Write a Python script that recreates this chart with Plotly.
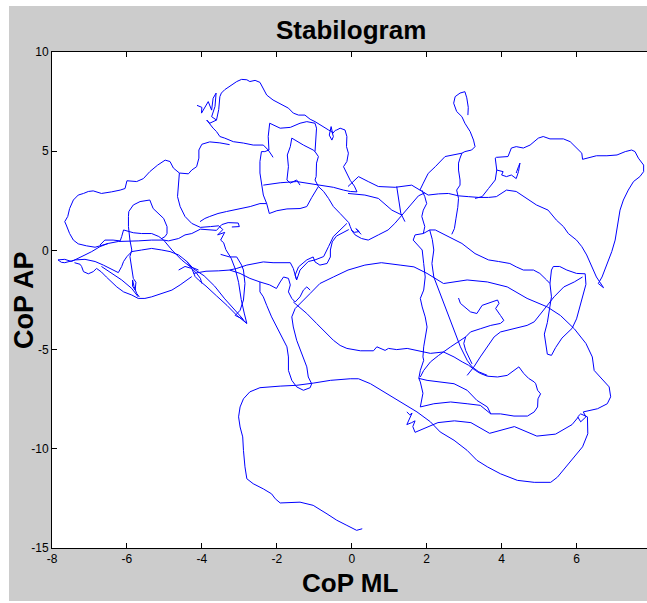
import plotly.graph_objects as go

# ---- Data: CoP trajectory (ML, AP), as path pieces ----
seg_bottom = [(0.28,-14.03),(0.13,-14.11),(-0.13,-13.86),(-0.40,-13.60),(-0.66,-13.28),(-1.03,-12.85),(-1.38,-12.69),(-1.91,-12.73),(-2.04,-12.52),(-2.14,-12.27),(-2.36,-12.02),(-2.63,-11.76),(-2.80,-11.51),(-2.85,-10.91),(-2.89,-10.08),(-2.91,-9.40),(-2.98,-8.90),(-3.02,-8.39),(-2.98,-7.89),(-2.89,-7.48),(-2.72,-7.13),(-2.45,-6.92),(-1.91,-6.84),(-1.47,-6.80),(-1.03,-6.69),(-0.57,-6.55),(-0.04,-6.47),(0.18,-6.47),(0.50,-6.72),(0.94,-7.23),(1.39,-7.73),(1.74,-8.14),(2.10,-8.64),(2.36,-9.15),(2.73,-9.57),(3.08,-10.08),(3.34,-10.58),(3.62,-10.91),(3.97,-11.26),(4.42,-11.59),(4.87,-11.69),(5.31,-11.69),(5.49,-11.43),(5.71,-10.93),(5.94,-10.41),(6.16,-9.90),(6.30,-9.24),(6.29,-8.39),(6.11,-8.24),(6.03,-8.39),(6.11,-8.64),(6.25,-8.39),(6.18,-8.14),(6.56,-7.98),(6.82,-7.73),(6.91,-7.38),(6.87,-6.88),(6.64,-6.38),(6.47,-6.05),(6.42,-5.37),(6.25,-4.69),(5.94,-3.95),(5.57,-3.28),(5.22,-2.85),(4.68,-2.42),(4.15,-1.84),(3.62,-1.59),(3.08,-1.49),(2.73,-1.59),(2.45,-1.67),(2.01,-1.16),(1.66,-0.83),(1.29,-0.74),(0.79,-0.62),(0.35,-0.74),(-0.10,-0.99),(-0.49,-1.34),(-0.85,-1.67),(-1.11,-2.17),(-1.38,-2.67),(-1.51,-2.93),(-1.60,-3.35),(-1.56,-3.86),(-1.47,-4.53),(-1.34,-5.19),(-1.20,-5.87),(-1.16,-6.38),(-1.07,-6.72),(-1.11,-6.92),(-1.29,-7.05),(-1.47,-6.88),(-1.60,-6.55),(-1.69,-6.05),(-1.69,-5.37),(-1.73,-4.86),(-1.87,-4.36),(-2.01,-3.86),(-2.14,-3.35),(-2.27,-2.77),(-2.36,-2.34),(-2.45,-2.09),(-2.45,-1.59),(-2.19,-1.74),(-2.01,-1.92),(-1.91,-1.59),(-1.82,-1.34),(-1.69,-1.41),(-1.64,-1.74),(-1.69,-2.09),(-1.60,-2.42),(-1.51,-2.60),(-1.38,-2.34),(-1.29,-2.00),(-1.20,-1.84),(-1.11,-2.00)]

seg_low_mid = [(-1.56,-2.60),(-1.20,-3.18),(-0.94,-3.68),(-0.66,-4.19),(-0.49,-4.53),(-0.31,-4.79),(-0.13,-4.94),(0.23,-5.06),(0.58,-5.06),(0.67,-4.86),(0.76,-4.94),(0.89,-5.04),(0.98,-4.94),(1.20,-5.00),(1.48,-4.94),(1.74,-5.04),(1.92,-5.12),(2.10,-5.19),(2.45,-5.12),(2.73,-5.37),(2.95,-5.62),(3.12,-5.79),(3.30,-6.05),(3.43,-6.20),(3.62,-6.34),(3.89,-6.38),(4.15,-6.30),(4.33,-6.05),(4.46,-5.87),(4.59,-6.20),(4.72,-6.45),(4.87,-6.63),(4.91,-6.72),(4.96,-7.05),(5.04,-7.23),(4.97,-7.48),(4.96,-7.89),(4.87,-8.14),(4.69,-8.35),(4.33,-8.35),(3.97,-8.24),(3.71,-8.24),(3.62,-7.89),(3.34,-7.56),(3.08,-7.05),(2.73,-6.72),(2.36,-6.63),(2.01,-6.55),(1.79,-6.45),(1.83,-6.63),(1.90,-7.20),(1.83,-7.89),(2.19,-7.73),(2.64,-7.64),(3.08,-7.73),(3.43,-7.81),(3.71,-8.24)]

seg_a_cluster = [(1.47,-8.14),(1.55,-8.29),(1.61,-8.20),(1.52,-8.59),(1.47,-8.78),(1.60,-8.68),(1.69,-8.59),(1.63,-8.88),(1.69,-9.17),(2.30,-8.68),(2.74,-8.59),(3.18,-8.68),(3.68,-9.22),(4.34,-8.88),(4.94,-9.36),(5.44,-9.26),(5.88,-8.78),(6.05,-8.39)]

seg_right_vert = [(1.87,3.04),(1.95,2.71),(2.00,2.36),(1.91,2.03),(1.87,1.71),(1.95,1.20),(1.91,0.85),(1.69,0.78),(1.64,0.52),(1.88,0.02),(1.92,-0.66),(1.96,-1.34),(1.92,-2.00),(1.83,-2.42),(1.88,-2.85),(1.96,-3.35),(2.01,-3.86),(1.96,-4.44),(1.92,-4.86),(1.90,-5.37),(1.92,-5.54),(1.83,-6.05),(1.79,-6.45)]

seg_inner_vert = [(2.08,1.03),(2.15,0.55),(2.19,0.02),(2.14,-0.66),(2.19,-1.34),(2.32,-2.00),(2.45,-2.67),(2.64,-3.53),(2.77,-4.19),(2.90,-4.86),(3.08,-5.54),(3.21,-5.87),(3.39,-6.12),(3.62,-6.30)]

seg_right_box = [(1.91,0.85),(2.08,1.03),(2.23,1.03),(2.58,0.70),(2.94,0.35),(3.29,-0.16),(3.65,-0.48),(3.92,-0.56),(4.22,-0.66),(4.39,-0.83),(4.58,-0.99),(4.85,-0.99),(5.02,-1.16),(5.20,-1.49),(5.29,-1.67),(5.33,-0.99),(5.38,-0.81),(5.55,-0.81),(5.74,-0.99),(6.00,-1.16),(6.23,-1.18),(6.25,-1.71),(6.16,-2.29),(6.07,-2.87),(6.00,-3.45),(5.88,-3.93),(5.61,-4.42),(5.44,-4.90),(5.33,-5.29),(5.22,-5.23),(5.19,-4.81),(5.14,-4.22),(5.22,-3.64),(5.29,-2.93),(5.33,-2.34),(5.29,-1.67)]

seg_sweep = [(3.08,-6.30),(3.26,-5.87),(3.43,-5.37),(3.62,-4.86),(3.80,-4.36),(3.97,-4.11),(4.15,-4.03),(4.42,-3.93),(4.68,-3.78),(4.87,-3.60),(5.04,-3.18),(5.22,-2.75),(5.40,-2.34),(5.66,-1.84),(5.94,-1.59),(6.16,-1.34)]

seg_diag_up = [(1.83,-6.38),(1.92,-6.05),(2.10,-5.62),(2.32,-5.29),(2.64,-4.86),(2.90,-4.53),(3.04,-4.36)]

seg_hook_low = [(2.85,-2.40),(2.90,-2.67),(3.17,-3.10),(3.34,-3.18),(3.48,-2.77),(3.71,-2.60),(3.89,-2.50),(3.93,-2.67),(3.84,-2.93),(3.97,-3.28),(4.06,-3.53),(3.97,-3.68),(3.71,-3.78),(3.43,-3.95),(3.17,-4.11),(3.04,-4.36),(2.99,-4.69),(3.04,-5.04),(3.12,-5.37),(3.21,-5.72)]

seg_right_loop = [(3.29,2.62),(3.48,2.71),(3.65,3.12),(3.83,3.55),(3.87,4.05),(3.83,4.65),(3.86,4.69),(4.17,4.73),(4.26,5.16),(4.39,5.23),(4.58,5.16),(4.76,5.31),(4.98,5.66),(5.11,5.74),(5.29,5.62),(5.65,5.62),(5.83,5.48),(6.05,5.06),(6.14,4.90),(6.16,4.59),(6.31,4.65),(6.53,4.77),(6.81,4.77),(7.08,4.81),(7.30,4.98),(7.47,5.06),(7.56,4.98),(7.65,4.65),(7.79,4.30),(7.79,3.97),(7.69,3.72),(7.52,3.47),(7.38,3.04),(7.25,2.54),(7.16,2.03),(7.09,1.20),(7.03,0.52),(6.94,-0.06),(6.81,-0.66),(6.68,-1.34),(6.58,-1.67),(6.72,-1.88),(6.53,-1.34),(6.40,-0.81),(6.27,-0.23),(6.14,0.19),(6.00,0.52),(5.78,0.85),(5.65,1.20),(5.46,1.53),(5.24,2.03),(4.93,2.29),(4.67,2.62),(4.39,2.97),(4.13,3.04),(3.86,2.71),(3.65,2.67),(3.39,2.67),(3.11,2.71),(2.85,2.75),(2.58,2.87),(2.32,2.85),(2.04,2.79),(1.82,3.04),(1.60,3.29),(1.16,3.18),(0.71,3.22),(0.44,3.47),(0.18,3.72),(-0.10,3.22)]

seg_tr_tangle = [(3.87,4.05),(4.04,3.97),(4.00,3.80),(4.13,3.72),(4.26,3.80),(4.39,3.62),(4.45,3.97),(4.49,4.40),(4.45,4.22),(4.39,3.90)]

seg_top_hook = [(3.10,6.82),(3.11,7.21),(3.07,7.69),(3.02,8.00),(2.89,7.93),(2.76,7.75),(2.72,7.42),(2.80,7.00),(2.94,6.74),(3.02,6.41),(3.16,5.99),(3.25,5.56),(3.29,5.23),(3.20,5.06),(3.02,4.98),(2.94,4.90),(2.89,4.65),(2.85,4.40),(2.85,4.05),(2.89,3.55),(2.89,3.29),(2.80,3.04),(2.85,2.62),(2.83,2.17),(2.78,1.59),(2.74,1.10),(2.67,0.81)]

seg_hook_link = [(2.94,4.90),(2.49,4.73),(2.23,4.22),(2.04,3.88),(1.91,3.39),(1.82,3.04)]

seg_band_low = [(-0.10,2.87),(0.35,2.79),(0.71,2.62),(1.07,2.03),(1.34,1.78)]
seg_mid_curve = [(-0.01,1.03),(0.09,0.78),(0.26,0.60),(0.44,0.52),(0.71,0.78),(0.97,1.03),(1.15,1.36),(1.34,1.78),(1.60,2.40),(1.78,2.75),(1.95,2.90)]
seg_tip = [(1.20,3.22),(1.25,2.54),(1.31,1.86),(1.42,1.45)]

seg_tangle_tl = [(-4.13,7.31),(-4.00,7.21),(-4.01,6.92),(-3.92,7.25),(-3.83,7.50),(-3.74,7.07),(-3.70,7.67),(-3.62,7.93),(-3.65,7.25),(-3.74,6.74),(-3.61,6.57),(-3.79,6.41),(-3.87,6.57),(-3.70,6.16),(-3.61,5.99)]

seg_arch = [(-3.61,6.57),(-3.55,7.10),(-3.52,7.75),(-3.48,7.93),(-3.39,8.10),(-3.26,8.26),(-3.07,8.51),(-2.94,8.62),(-2.80,8.60),(-2.72,8.51),(-2.58,8.57),(-2.45,8.47),(-2.36,8.18),(-2.27,7.83),(-2.10,7.58),(-1.87,7.33),(-1.69,7.17),(-1.56,6.92),(-1.42,6.82),(-1.25,6.82),(-1.11,6.61),(-0.98,6.49),(-0.84,6.32),(-0.71,6.16),(-0.62,6.07),(-0.53,5.99),(-0.49,5.74),(-0.53,5.56),(-0.60,5.81),(-0.55,6.24),(-0.51,5.89),(-0.44,6.05),(-0.40,6.07),(-0.31,6.16),(-0.18,6.07),(-0.13,5.74),(-0.14,5.23),(-0.09,4.90),(-0.13,4.48),(-0.22,4.22),(-0.13,3.90),(-0.04,3.53),(0.07,3.24),(0.14,2.95)]

seg_tl_line = [(-3.61,5.99),(-3.52,5.74),(-3.39,5.66),(-3.16,5.48),(-2.89,5.41),(-2.63,5.31),(-2.36,5.31),(-2.23,5.06),(-2.14,4.81),(-2.10,4.69)]

seg_left_loop = [(-3.26,5.33),(-3.52,5.42),(-3.79,5.47),(-4.00,5.35),(-4.08,5.06),(-4.08,4.65),(-4.14,4.22),(-4.27,4.05),(-4.36,3.86),(-4.60,3.90),(-4.76,4.15),(-4.85,4.48),(-4.98,4.55),(-5.18,4.30),(-5.39,3.97),(-5.56,3.62),(-5.74,3.47),(-6.00,3.51),(-6.05,3.12),(-6.18,3.04),(-6.41,2.95),(-6.68,2.87),(-6.90,3.00),(-7.03,2.97),(-7.16,2.87),(-7.30,2.79),(-7.43,2.54),(-7.53,2.11),(-7.58,1.71),(-7.66,1.45),(-7.62,1.28),(-7.53,0.85),(-7.43,0.52),(-7.30,0.33),(-7.08,0.23),(-6.85,0.16),(-6.72,0.23),(-6.50,0.35),(-6.23,0.45),(-5.92,0.45),(-5.70,0.48),(-5.34,0.52),(-5.02,0.52),(-4.89,0.48),(-4.62,0.60),(-4.45,0.78),(-4.27,0.85),(-4.04,1.07),(-3.77,1.05),(-3.61,1.01)]

seg_left_down = [(-4.60,3.90),(-4.62,3.47),(-4.65,2.71),(-4.58,2.21),(-4.45,1.71),(-4.27,1.36),(-4.04,1.16),(-3.77,1.20),(-3.55,1.24),(-3.44,1.05),(-3.58,0.78),(-3.39,0.91),(-3.50,0.52),(-3.42,0.39),(-3.36,0.04),(-3.22,-0.39),(-3.11,-0.93),(-3.02,-1.61),(-2.95,-2.48),(-2.87,-3.16),(-2.80,-3.68)]

seg_box_small = [(-3.61,1.01),(-3.47,1.30),(-3.30,1.40),(-3.03,1.38),(-3.00,1.20),(-3.20,1.18)]

seg_cluster_up = [(-4.05,1.45),(-3.92,1.61),(-3.79,1.71),(-3.57,1.86),(-3.34,1.96),(-3.16,2.03),(-2.71,2.21),(-2.45,2.36),(-2.27,2.36)]

seg_mid_box = [(-2.19,6.41),(-2.23,5.74),(-2.21,5.06),(-2.32,4.98),(-2.41,4.98),(-2.45,4.48),(-2.45,3.90),(-2.41,3.29),(-2.36,2.79),(-2.27,2.36),(-2.20,1.86),(-2.00,2.00),(-1.73,2.09),(-1.38,2.11),(-1.20,2.21),(-1.07,2.66),(-0.89,3.22)]

seg_mid_top = [(-2.19,6.41),(-1.91,6.16),(-1.64,6.20),(-1.38,6.41),(-1.20,6.49),(-0.98,6.41),(-0.94,6.16),(-0.96,5.60),(-0.98,4.98),(-0.89,4.73),(-0.94,4.40),(-0.95,3.72),(-0.98,3.55),(-0.89,3.22),(-0.75,2.97),(-0.62,2.62),(-0.49,2.21),(-0.31,1.86),(-0.13,1.53),(-0.08,1.40),(-0.04,1.20),(0.00,1.01),(0.07,0.91),(0.20,0.95),(0.11,1.10),(0.25,0.81)]

seg_inner_loop = [(-0.98,4.98),(-1.03,5.06),(-1.29,5.31),(-1.51,5.56),(-1.60,5.66),(-1.64,5.23),(-1.72,4.81),(-1.69,4.22),(-1.73,3.55),(-1.64,3.39),(-1.47,3.55),(-1.38,3.29)]

seg_mid_band = [(-2.36,3.29),(-1.91,3.41),(-1.47,3.47),(-1.11,3.37),(-0.75,3.29),(-0.49,3.18),(-0.22,3.04),(-0.04,2.97),(0.14,2.95)]

seg_center_a = [(-0.08,1.05),(-0.24,0.91),(-0.41,0.72),(-0.52,0.43),(-0.57,0.02),(-0.57,-0.33),(-0.66,-0.66),(-0.85,-0.74),(-0.98,-0.58),(-1.03,-0.33),(-1.20,-0.48),(-1.42,-0.83),(-1.51,-1.24),(-1.47,-1.49)]
seg_center_b = [(-0.13,1.36),(-0.31,1.03),(-0.49,0.70),(-0.62,0.19),(-0.75,-0.31),(-0.98,-0.48),(-1.16,-0.56),(-1.38,-0.99),(-1.47,-1.49)]

seg_mid_left = [(-4.22,-1.16),(-3.89,-1.05),(-3.55,-1.03),(-3.26,-0.99),(-3.07,-0.91),(-2.80,-0.74),(-2.36,-0.58),(-2.10,-0.62),(-1.64,-0.62),(-1.56,-0.91),(-1.51,-1.24),(-1.47,-1.49)]
seg_mid_left2 = [(-3.26,-0.99),(-2.98,-1.16),(-2.72,-1.41),(-2.45,-1.59)]
seg_spike = [(-3.50,-0.20),(-3.26,-0.33),(-3.07,-0.33),(-2.94,-0.74),(-2.89,-0.99),(-2.85,-1.67),(-2.89,-2.50),(-2.98,-3.02),(-3.11,-3.28),(-2.94,-3.43),(-2.80,-3.68)]
seg_spike_a = [(-4.09,-1.49),(-3.89,-1.80),(-3.61,-2.29),(-3.33,-2.77),(-3.06,-3.29),(-2.80,-3.68)]
seg_spike_b = [(-4.40,-0.56),(-4.22,-0.93),(-3.94,-1.28),(-3.66,-1.80),(-3.39,-2.44),(-3.11,-3.02),(-2.89,-3.49)]

seg_left_vert = [(-5.07,0.60),(-4.98,0.70),(-4.93,0.85),(-4.93,1.20),(-5.02,1.61),(-5.15,1.86),(-5.30,2.11),(-5.39,2.54),(-5.65,2.46),(-5.83,2.29),(-5.95,1.96),(-5.96,1.71),(-5.96,1.20),(-5.92,0.52),(-5.87,0.02),(-5.92,-0.31),(-5.87,-0.99),(-5.83,-1.41),(-5.76,-1.61),(-5.78,-2.00),(-5.85,-1.80),(-5.85,-1.49),(-5.81,-1.82),(-5.74,-2.17),(-5.67,-2.34)]

seg_left_low = [(-7.84,-0.48),(-7.75,-0.60),(-7.66,-0.62),(-7.53,-0.56),(-7.38,-0.48),(-7.12,-0.45),(-6.85,-0.56),(-6.63,-0.74),(-6.41,-0.95),(-6.23,-1.12),(-6.14,-0.81),(-6.09,-0.56),(-6.00,-0.31),(-5.87,-0.06),(-5.61,0.02),(-5.34,0.10),(-5.07,0.02),(-4.85,-0.06),(-4.62,-0.23),(-4.40,-0.56),(-4.27,-0.91),(-4.18,-1.32),(-4.09,-1.49)]
seg_left_edge = [(-7.84,-0.48),(-7.66,-0.45),(-7.48,-0.56),(-7.30,-0.41),(-7.12,-0.23),(-6.94,-0.06),(-6.72,0.19),(-6.50,0.35)]
seg_left_bottom = [(-7.40,-0.62),(-7.25,-0.70),(-7.21,-0.81),(-7.16,-1.07),(-7.03,-1.18),(-6.90,-1.07),(-6.81,-0.91),(-6.68,-1.09),(-6.55,-1.34),(-6.41,-1.59),(-6.27,-1.84),(-6.09,-2.09),(-5.87,-2.25),(-5.70,-2.42),(-5.52,-2.42),(-5.34,-2.34),(-5.07,-2.17),(-4.80,-2.00),(-4.58,-1.74),(-4.40,-1.49),(-4.27,-1.32)]
seg_left_diag = [(-6.68,-0.81),(-6.46,-1.07),(-6.14,-1.49),(-5.87,-1.92),(-5.70,-2.34)]
seg_left_band = [(-6.72,0.27),(-6.59,0.52),(-6.37,0.52),(-6.18,0.48),(-6.14,0.70),(-6.09,1.03),(-5.83,0.89),(-5.61,0.85),(-5.34,0.85),(-5.15,0.70),(-5.02,0.52),(-4.80,0.02),(-4.54,-0.48),(-4.32,-0.81),(-4.09,-0.99)]
seg_left_hook = [(-4.62,-0.99),(-4.45,-0.81),(-4.27,-0.91),(-4.14,-1.16),(-4.04,-1.41),(-4.00,-1.67)]

segments = [seg_bottom, seg_low_mid, seg_a_cluster, seg_right_vert, seg_inner_vert,
            seg_right_box, seg_sweep, seg_diag_up, seg_hook_low, seg_right_loop,
            seg_tr_tangle, seg_top_hook, seg_hook_link, seg_band_low, seg_mid_curve,
            seg_tip, seg_tangle_tl, seg_arch, seg_tl_line, seg_left_loop,
            seg_left_down, seg_box_small, seg_cluster_up, seg_mid_box, seg_mid_top,
            seg_inner_loop, seg_mid_band, seg_center_a, seg_center_b, seg_mid_left,
            seg_mid_left2, seg_spike, seg_spike_a, seg_spike_b, seg_left_vert,
            seg_left_low, seg_left_edge, seg_left_bottom, seg_left_diag,
            seg_left_band, seg_left_hook]

x_ticks = [-8, -6, -4, -2, 0, 2, 4, 6]
y_ticks = [-15, -10, -5, 0, 5, 10]

ml, ap = [], []
for seg in segments:
    ml += [p[0] for p in seg] + [None]
    ap += [p[1] for p in seg] + [None]

FONT = "Liberation Sans, Arial, Helvetica, sans-serif"
L, R, T, B = 52, 0, 52, 55
W, H = 647, 603
PW, PH = W - L - R, H - T - B

def px(xp):  # pixel -> paper x
    return (xp - L) / PW

def py(yp):  # pixel -> paper y
    return (T + PH - yp) / PH

fig = go.Figure(go.Scatter(x=ml, y=ap, mode="lines",
                           line=dict(color="#0000ff", width=1),
                           hoverinfo="skip"))

fig.update_layout(
    width=W, height=H,
    margin=dict(l=L, r=R, t=T, b=B, pad=0),
    paper_bgcolor="#cccccc", plot_bgcolor="white",
    showlegend=False,
    xaxis=dict(range=[-8, 7.88], tickvals=x_ticks, ticktext=[str(v) for v in x_ticks],
               ticks="inside", ticklen=5, tickwidth=1, tickcolor="black",
               showline=True, linecolor="black", linewidth=1, mirror="ticks",
               showgrid=False, zeroline=False, automargin=False,
               tickfont=dict(family=FONT, size=12, color="black")),
    yaxis=dict(range=[-15, 10], tickvals=y_ticks, ticktext=[str(v) for v in y_ticks],
               ticks="inside", ticklen=5, tickwidth=1, tickcolor="black",
               showline=True, linecolor="black", linewidth=1, mirror=False,
               showgrid=False, zeroline=False, automargin=False,
               tickfont=dict(family=FONT, size=12, color="black")),
    shapes=[
        dict(type="rect", xref="paper", yref="paper", x0=px(0), x1=px(9), y0=py(603), y1=py(0),
             fillcolor="white", line=dict(width=0), layer="below"),
        dict(type="rect", xref="paper", yref="paper", x0=px(0), x1=px(647), y0=py(6), y1=py(0),
             fillcolor="white", line=dict(width=0), layer="below"),
        dict(type="rect", xref="paper", yref="paper", x0=px(0), x1=px(647), y0=py(603), y1=py(601),
             fillcolor="white", line=dict(width=0), layer="below"),
    ],
    annotations=[
        dict(text="<b>Stabilogram</b>", xref="paper", yref="paper", x=px(351), y=py(30),
             xanchor="center", yanchor="middle", showarrow=False,
             font=dict(family=FONT, size=26, color="black")),
        dict(text="<b>CoP ML</b>", xref="paper", yref="paper", x=px(350), y=py(583),
             xanchor="center", yanchor="middle", showarrow=False,
             font=dict(family=FONT, size=26, color="black")),
        dict(text="<b>CoP AP</b>", xref="paper", yref="paper", x=px(24), y=py(300),
             xanchor="center", yanchor="middle", showarrow=False, textangle=-90,
             font=dict(family=FONT, size=27, color="black")),
    ],
)

fig.write_html("out.html",
               config={"displayModeBar": False},
               post_script="document.body.style.margin='0';document.body.style.overflow='hidden';")
